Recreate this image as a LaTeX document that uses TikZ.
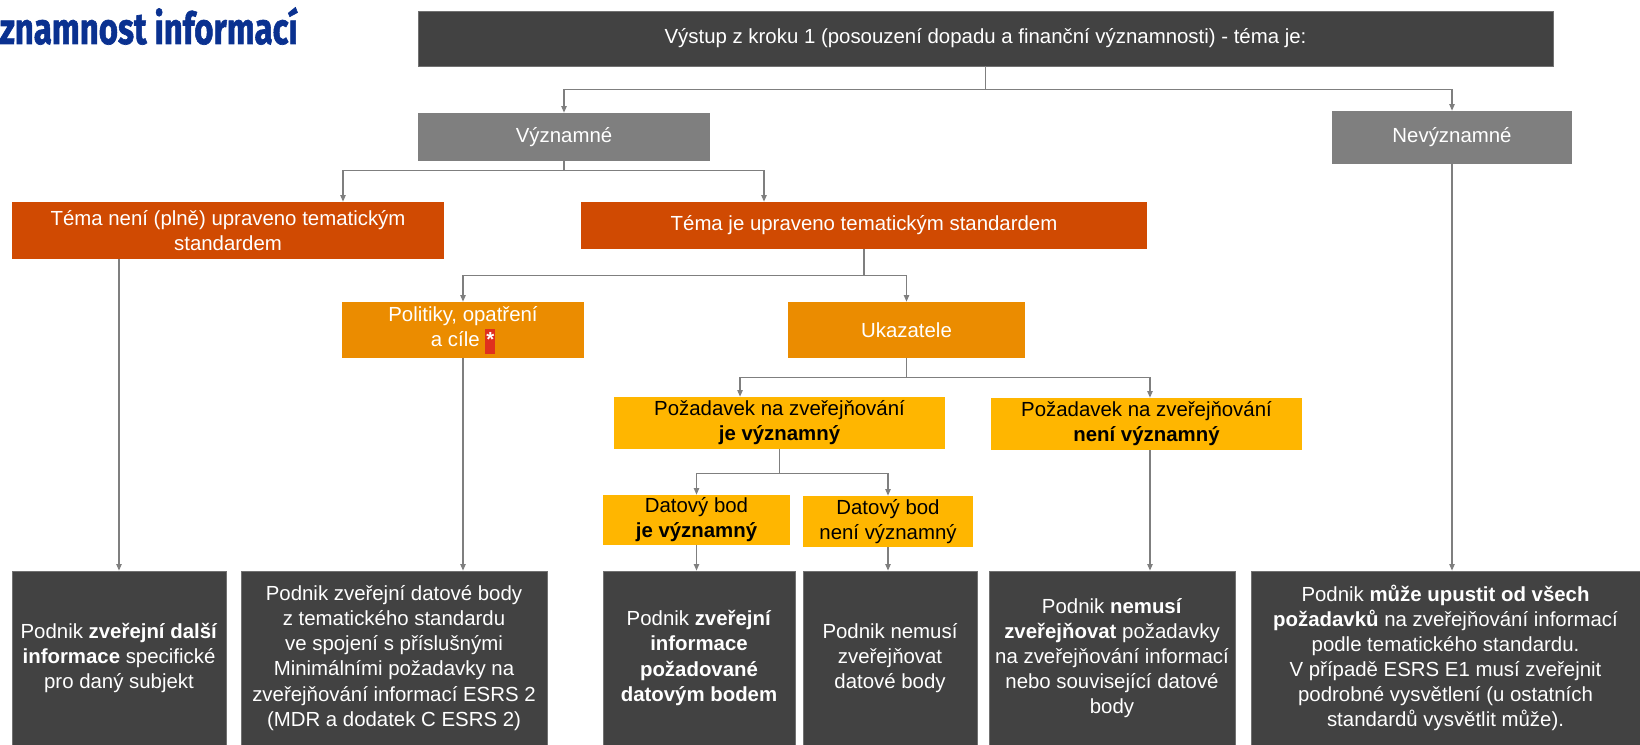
\documentclass[tikz,border=0pt]{standalone}
\usepackage{fontspec}
\setmainfont{Liberation Sans}
\newfontfamily\titlefont{Fira Sans}[BoldFeatures={FakeBold=1.6}]
\usetikzlibrary{arrows.meta}
\definecolor{darkbox}{HTML}{424242}
\definecolor{midgray}{HTML}{7F7F7F}
\definecolor{deeporange}{HTML}{D04A02}
\definecolor{midorange}{HTML}{EB8C00}
\definecolor{yellowbox}{HTML}{FFB600}
\definecolor{starred}{HTML}{E0301E}
\definecolor{titleblue}{HTML}{0A3190}
\definecolor{connc}{HTML}{7F7F7F}
\newcommand\bx[7]{\node[#6, minimum width={(#4-#2)*0.75pt}, minimum height={(#5-#3)*0.75pt}] (#1) at ({(#2+#4)/2},{(#3+#5)/2}) {#7};}
\newcommand\starmark{{\setlength\fboxsep{0pt}\colorbox{starred}{\strut\hspace{0.7pt}\textbf{*}\hspace{0.7pt}}}}
\begin{document}
\begin{tikzpicture}[x=0.75pt,y=-0.75pt,
  basebox/.style={rectangle, inner sep=0pt, align=center, font=\fontsize{15.3}{18.8}\selectfont},
  darkstyle/.style={basebox, fill=darkbox, draw=darkbox!75!white, line width=0.5pt, text=white},
  graystyle/.style={basebox, fill=midgray, text=white},
  deepstyle/.style={basebox, fill=deeporange, text=white},
  orangestyle/.style={basebox, fill=midorange, text=white},
  yellowstyle/.style={basebox, fill=yellowbox, text=black},
  arr/.style={draw=connc, line width=1pt, -{Triangle[length=5pt,width=4pt]}}
]
\useasboundingbox (0,0) rectangle (1640,745);

\node[anchor=base east, inner sep=0pt, text=titleblue] (title) at (298,44)
  {\resizebox{223.5pt}{27.5pt}{\titlefont\bfseries znamnost informací}};

\bx{T}{418}{11}{1553}{66}{darkstyle}{Výstup z kroku 1 (posouzení dopadu a finanční významnosti) - téma je:}
\bx{V}{418}{113}{710}{161}{graystyle}{Významné}
\bx{N}{1332}{111}{1572}{164}{graystyle}{Nevýznamné}
\bx{A}{12}{202}{444}{259}{deepstyle}{Téma není (plně) upraveno tematickým\\standardem}
\bx{B}{581}{202}{1147}{249}{deepstyle}{Téma je upraveno tematickým standardem}
\bx{P}{342}{302}{584}{358}{orangestyle}{Politiky, opatření\\a cíle \starmark}
\bx{U}{788}{302}{1025}{358}{orangestyle}{Ukazatele}
\bx{R1}{614}{397}{945}{449}{yellowstyle}{Požadavek na zveřejňování\\\textbf{je významný}}
\bx{R2}{991}{398}{1302}{450}{yellowstyle}{Požadavek na zveřejňování\\\textbf{není významný}}
\bx{D1}{603}{495}{790}{545}{yellowstyle}{Datový bod\\\textbf{je významný}}
\bx{D2}{803}{496}{973}{547}{yellowstyle}{Datový bod\\není významný}

\bx{O1}{12}{571}{226}{745}{darkstyle}{Podnik \textbf{zveřejní další}\\\textbf{informace} specifické\\pro daný subjekt}
\bx{O2}{241}{571}{547}{745}{darkstyle}{Podnik zveřejní datové body\\z tematického standardu\\ve spojení s příslušnými\\Minimálními požadavky na\\zveřejňování informací ESRS 2\\(MDR a dodatek C ESRS 2)}
\bx{O3}{603}{571}{795}{745}{darkstyle}{Podnik \textbf{zveřejní}\\\textbf{informace}\\\textbf{požadované}\\\textbf{datovým bodem}}
\bx{O4}{803}{571}{977}{745}{darkstyle}{Podnik nemusí\\zveřejňovat\\datové body}
\bx{O5}{989}{571}{1235}{745}{darkstyle}{Podnik \textbf{nemusí}\\\textbf{zveřejňovat} požadavky\\na zveřejňování informací\\nebo související datové\\body}
\bx{O6}{1251}{571}{1640}{745}{darkstyle}{Podnik \textbf{může upustit od všech}\\\textbf{požadavků} na zveřejňování informací\\podle tematického standardu.\\V případě ESRS E1 musí zveřejnit\\podrobné vysvětlení (u ostatních\\standardů vysvětlit může).}

% connectors
\draw[arr] (T.south) -- ++(0,23) -| (V.north);
\draw[arr] (T.south) -- ++(0,23) -| (N.north);
\draw[arr] (V.south) -- ++(0,9) -| ([xshift=86.25pt]A.north);
\draw[arr] (V.south) -- ++(0,9) -| ([xshift=-75pt]B.north);
\draw[arr] (B.south) -- ++(0,26) -| (P.north);
\draw[arr] (B.south) -- ++(0,26) -| (U.north);
\draw[arr] (U.south) -- ++(0,19) -| ([xshift=-29.6pt]R1.north);
\draw[arr] (U.south) -- ++(0,19) -| ([xshift=2.6pt]R2.north);
\draw[arr] (R1.south) -- ++(0,24) -| (D1.north);
\draw[arr] (R1.south) -- ++(0,24) -| (D2.north);
\draw[arr] (A.south -| O1.north) -- (O1.north);
\draw[arr] (P.south) -- (P.south |- O2.north);
\draw[arr] (D1.south) -- (D1.south |- O3.north);
\draw[arr] (D2.south) -- (D2.south |- O4.north);
\draw[arr] ([xshift=2.6pt]R2.south) -- ([xshift=2.6pt]R2.south |- O5.north);
\draw[arr] (N.south) -- (N.south |- O6.north);
\end{tikzpicture}
\end{document}
